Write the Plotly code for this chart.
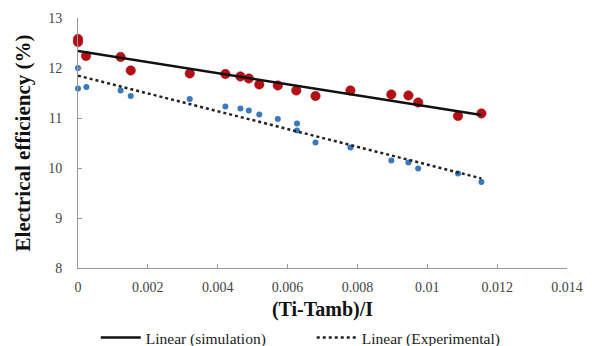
import numpy as np
import plotly.graph_objects as go

# Simulation (red) data
sim_x = [0.0, 0.0, 0.00023, 0.00122, 0.00151, 0.0032, 0.00422, 0.00465, 0.00489,
         0.00519, 0.00572, 0.00625, 0.0068, 0.0078, 0.00897, 0.00946, 0.00974,
         0.01088, 0.01155]
sim_y = [12.58, 12.52, 12.24, 12.22, 11.95, 11.89, 11.88, 11.83, 11.79,
         11.67, 11.65, 11.55, 11.44, 11.55, 11.47, 11.45, 11.31,
         11.04, 11.09]

# Experimental (blue) data
exp_x = [0.0, 0.0, 0.00024, 0.00122, 0.00151, 0.0032, 0.00422, 0.00465, 0.00489,
         0.00519, 0.00572, 0.00627, 0.00627, 0.0068, 0.0078, 0.00897, 0.00946,
         0.00974, 0.01088, 0.01155]
exp_y = [12.0, 11.59, 11.62, 11.55, 11.44, 11.38, 11.23, 11.19, 11.15,
         11.07, 10.98, 10.89, 10.75, 10.51, 10.41, 10.15, 10.11,
         9.99, 9.89, 9.72]

x_ticks = [0, 0.002, 0.004, 0.006, 0.008, 0.01, 0.012, 0.014]
x_tick_text = ["0", "0.002", "0.004", "0.006", "0.008", "0.01", "0.012", "0.014"]
y_ticks = [8, 9, 10, 11, 12, 13]

FONT = "Times New Roman, Liberation Serif, serif"

def fit_line(xs, ys):
    k, b = np.polyfit(xs, ys, 1)
    xx = np.array([min(xs), max(xs)])
    return xx, k * xx + b

fig = go.Figure()

sx, sy = fit_line(sim_x, sim_y)
ex, ey = fit_line(exp_x, exp_y)

fig.add_trace(go.Scatter(x=sim_x, y=sim_y, mode="markers",
                         marker=dict(color="#B40F14", size=9.5,
                                     line=dict(color="#9A0A0E", width=0.5)),
                         showlegend=False, cliponaxis=False))
fig.add_trace(go.Scatter(x=exp_x, y=exp_y, mode="markers",
                         marker=dict(color="#3A78C0", size=6),
                         showlegend=False, cliponaxis=False))
fig.add_trace(go.Scatter(x=sx, y=sy, mode="lines", name="Linear (simulation)",
                         line=dict(color="#111111", width=2.5)))
fig.add_trace(go.Scatter(x=ex, y=ey, mode="lines", name="Linear (Experimental)",
                         line=dict(color="#222222", width=2.5, dash="dot")))

fig.update_layout(
    width=592, height=346,
    margin=dict(l=78, r=25, t=18, b=78, autoexpand=False),
    paper_bgcolor="white", plot_bgcolor="white",
    font=dict(family=FONT, size=13, color="#333333"),
    showlegend=True,
    legend=dict(orientation="h", x=0.478, xanchor="center", y=-0.28, yanchor="middle",
                font=dict(family=FONT, size=15.5, color="#222222"),
                itemwidth=40, tracegroupgap=0, entrywidth=161),
    xaxis=dict(range=[0, 0.014], tickvals=x_ticks, ticktext=x_tick_text,
               showgrid=False, zeroline=False, showline=True, linecolor="#999999",
               linewidth=1, ticks="inside", ticklen=4, tickcolor="#999999",
               ticklabelstandoff=6,
               tickfont=dict(family=FONT, size=14, color="#444444"),
               title=dict(text="<b>(Ti-Tamb)/I</b>", standoff=8,
                          font=dict(family=FONT, size=20, color="#111111"))),
    yaxis=dict(range=[8, 13], tickvals=y_ticks,
               showgrid=False, zeroline=False, showline=True, linecolor="#999999",
               linewidth=1, ticks="inside", ticklen=4, tickcolor="#999999",
               ticklabelstandoff=12,
               tickfont=dict(family=FONT, size=14, color="#444444"),
               title=dict(text="<b>Electrical efficiency (%)</b>", standoff=11,
                          font=dict(family=FONT, size=21, color="#111111"))),
)

fig.write_html("out.html")
